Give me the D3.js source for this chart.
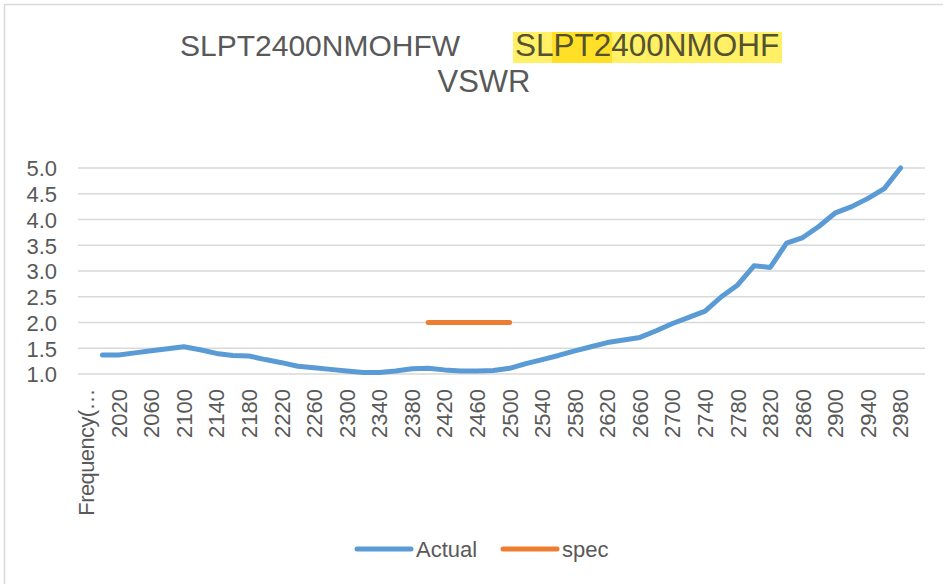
<!DOCTYPE html>
<html lang="en">

<head>
  <title>VSWR chart</title>
  <meta charset="UTF-8">
  <style>
    body {
      margin: 0;
      background: white;
    }
    #chart text {
      font-family: "Liberation Sans", Arial, sans-serif;
      fill: #595959;
    }
    .grid line {
      stroke: #d9d9d9;
      stroke-width: 1.5;
    }
    .axis path,
    .axis line {
      display: none;
    }
  </style>
</head>

<body>
  <div id="chart"></div>

  <script src="https://d3js.org/d3.v7.min.js"></script>

  <script>
    // categories (first one is the header cell that ended up on the axis)
    const categories = ['Frequency(MHz)',
      '2000', '2020', '2040', '2060', '2080', '2100', '2120', '2140', '2160', '2180',
      '2200', '2220', '2240', '2260', '2280', '2300', '2320', '2340', '2360', '2380',
      '2400', '2420', '2440', '2460', '2480', '2500', '2520', '2540', '2560', '2580',
      '2600', '2620', '2640', '2660', '2680', '2700', '2720', '2740', '2760', '2780',
      '2800', '2820', '2840', '2860', '2880', '2900', '2920', '2940', '2960', '2980',
      '3000'];

    const actual = [null,
      1.37, 1.37, 1.41, 1.45, 1.49, 1.53, 1.47, 1.40, 1.36, 1.35,
      1.28, 1.22, 1.15, 1.12, 1.09, 1.06, 1.03, 1.03, 1.06, 1.10,
      1.11, 1.08, 1.06, 1.06, 1.07, 1.11, 1.20, 1.28, 1.36, 1.45,
      1.53, 1.61, 1.66, 1.71, 1.84, 1.98, 2.10, 2.22, 2.50, 2.73,
      3.10, 3.07, 3.54, 3.65, 3.87, 4.13, 4.25, 4.41, 4.60, 5.00,
      null];

    const spec = [null,
      null, null, null, null, null, null, null, null, null, null,
      null, null, null, null, null, null, null, null, null, null,
      2.0, 2.0, 2.0, 2.0, 2.0, 2.0, null, null, null, null,
      null, null, null, null, null, null, null, null, null, null,
      null, null, null, null, null, null, null, null, null, null,
      null];

    const yTicks = [1.0, 1.5, 2.0, 2.5, 3.0, 3.5, 4.0, 4.5, 5.0];
    const seriesNames = ['Actual', 'spec'];
    const colors = ['#5b9bd5', '#ed7d31'];

    const width = 943;
    const height = 584;
    const plot = { left: 78, right: 925, top: 168, bottom: 374 };

    const svg = d3.select('#chart')
      .append('svg')
      .attr('width', width)
      .attr('height', height);

    // chart border
    svg.append('rect')
      .attr('x', 4.5)
      .attr('y', 4.5)
      .attr('width', width + 10)
      .attr('height', height + 10)
      .attr('fill', 'none')
      .attr('stroke', '#d9d9d9')
      .attr('stroke-width', 1.5);

    // scales
    const x = d3.scaleBand()
      .domain(categories)
      .range([plot.left, plot.right])
      .padding(0);

    const y = d3.scaleLinear()
      .domain([1, 5])
      .range([plot.bottom, plot.top]);

    // gridlines
    svg.append('g')
      .attr('class', 'grid')
      .selectAll('line')
      .data(yTicks)
      .enter()
      .append('line')
      .attr('x1', plot.left)
      .attr('x2', plot.right)
      .attr('y1', d => y(d))
      .attr('y2', d => y(d));

    // y axis
    svg.append('g')
      .attr('class', 'axis')
      .attr('transform', 'translate(' + (plot.left - 18) + ',0)')
      .call(d3.axisLeft(y).tickValues(yTicks).tickFormat(d3.format('.1f')).tickSize(0).tickPadding(3))
      .selectAll('text')
      .style('font-size', '22px')
      .attr('dy', '0.36em');

    // x axis, every other label, rotated
    const shown = categories.filter((c, i) => i % 2 === 0);
    const xAxis = svg.append('g')
      .attr('class', 'axis')
      .attr('transform', 'translate(0,' + (plot.bottom + 15) + ')')
      .call(d3.axisBottom(x)
        .tickValues(shown)
        .tickSize(0)
        .tickFormat(d => d.length > 10 ? d.slice(0, 10) + '…' : d));

    xAxis.selectAll('text')
      .style('font-size', '22px')
      .style('letter-spacing', d => d.length > 10 ? '-0.6px' : null)
      .attr('text-anchor', 'end')
      .attr('x', 0)
      .attr('y', 0)
      .attr('dy', '0.36em')
      .attr('transform', 'rotate(-90)');

    // lines
    const line = d3.line()
      .defined(d => d != null)
      .x((d, i) => x(categories[i]) + x.bandwidth() / 2)
      .y(d => y(d));

    [actual, spec].forEach(function (series, k) {
      svg.append('path')
        .datum(series)
        .attr('fill', 'none')
        .attr('stroke', colors[k])
        .attr('stroke-width', 5)
        .attr('stroke-linejoin', 'round')
        .attr('stroke-linecap', 'round')
        .attr('d', line);
    });

    // title
    const title = svg.append('g');
    title.append('rect')
      .attr('x', 513).attr('y', 32).attr('width', 269).attr('height', 31)
      .attr('fill', '#fff066');
    title.append('rect')
      .attr('x', 552).attr('y', 32).attr('width', 60).attr('height', 31)
      .attr('fill', '#ffe026');
    title.append('text')
      .attr('x', 180)
      .attr('y', 56)
      .style('font-size', '30px')
      .text('SLPT2400NMOHFW');
    title.append('text')
      .attr('x', 515)
      .attr('y', 56)
      .style('font-size', '31.5px')
      .style('fill', '#545230')
      .text('SLPT2400NMOHF');
    title.append('text')
      .attr('x', 484)
      .attr('y', 92)
      .attr('text-anchor', 'middle')
      .style('font-size', '31px')
      .text('VSWR');

    // legend
    const legend = svg.append('g')
      .selectAll('g')
      .data(seriesNames)
      .enter()
      .append('g')
      .attr('transform', (d, i) => 'translate(' + [357, 503][i] + ',549)');

    legend.append('line')
      .attr('x1', 0)
      .attr('x2', 54)
      .attr('stroke', (d, i) => colors[i])
      .attr('stroke-width', 5)
      .attr('stroke-linecap', 'round');

    legend.append('text')
      .attr('x', 59)
      .attr('y', 8)
      .style('font-size', '22px')
      .text(d => d);
  </script>
</body>

</html>
